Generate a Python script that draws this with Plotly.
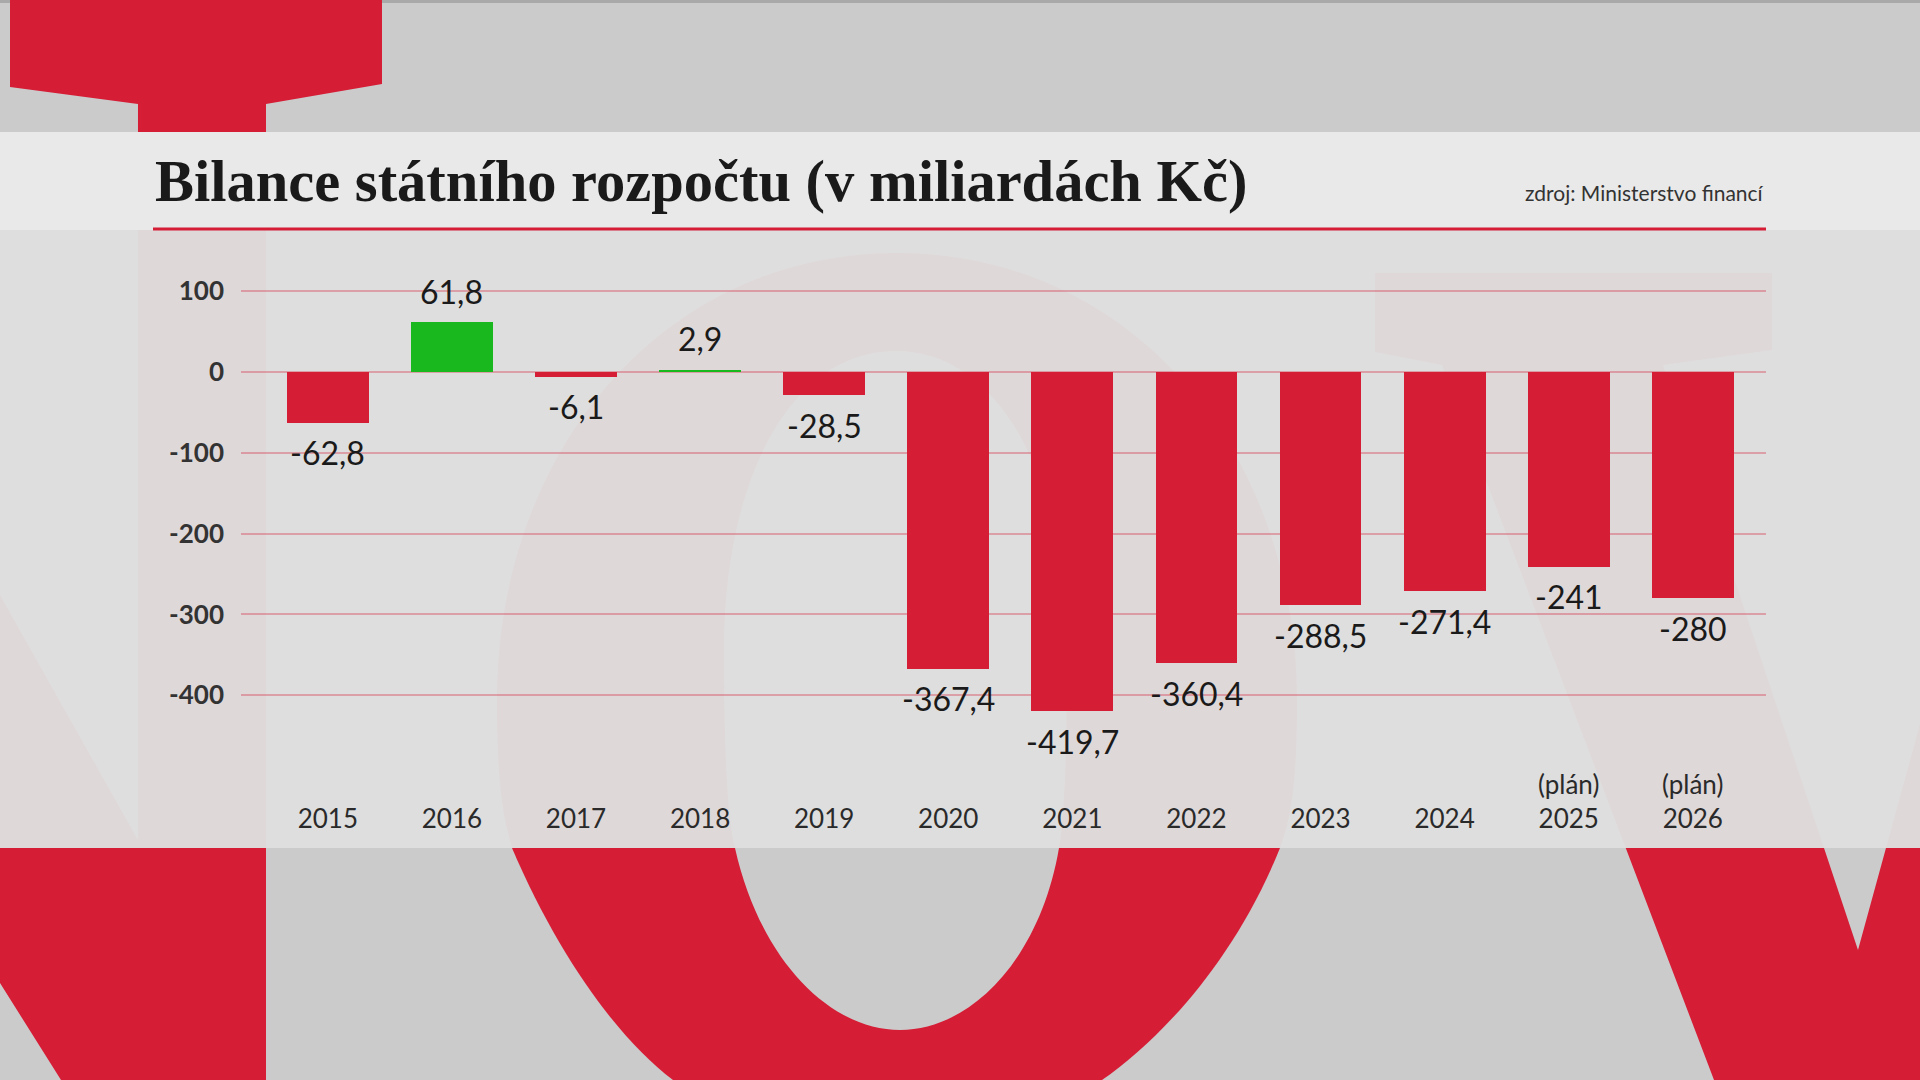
import plotly.graph_objects as go

# ---------------- data ----------------
years = ["2015", "2016", "2017", "2018", "2019", "2020",
         "2021", "2022", "2023", "2024", "2025", "2026"]
balance = [-62.8, 61.8, -6.1, 2.9, -28.5, -367.4,
           -419.7, -360.4, -288.5, -271.4, -241.0, -280.0]
plan_years = ["2025", "2026"]
plan_note = "(plán)"
y_tick_vals = [100, 0, -100, -200, -300, -400]
y_tick_text = ["100", "0", "-100", "-200", "-300", "-400"]
title_text = "Bilance státního rozpočtu (v miliardách Kč)"
source_text = "zdroj: Ministerstvo financí"

# ---------------- styling / layout helpers ----------------
W, H = 1920, 1080
RED = "#d51d36"
GREEN = "#18b81e"
BG = "#cbcbcb"


def px(x):
    return x / W


def py(y):
    return 1 - y / H


def P(x, y):
    return f"{px(x):.5f},{py(y):.5f}"


def poly(points):
    s = "M " + P(*points[0])
    for p in points[1:]:
        s += " L " + P(*p)
    return s + " Z"


# plot-area geometry (pixels)
zero_px = 372.0
scale = 0.808          # px per unit
y_lo, y_hi = -525, 125
plot_top = zero_px - y_hi * scale
plot_bot = zero_px - y_lo * scale
plot_left, plot_right = 241, 1766

colors = [GREEN if v > 0 else RED for v in balance]


def fmt(v):
    return f"{v:g}".replace(".", ",")


fig = go.Figure()
fig.add_trace(go.Bar(
    x=years, y=balance, marker_color=colors, marker_line_width=0,
    width=0.66, hoverinfo="skip"))

# ---------------- background decoration ----------------
shapes = []
shapes.append(dict(type="rect", xref="paper", yref="paper",
                   x0=0, x1=1, y0=py(3), y1=1, fillcolor="#a9a9a9",
                   line_width=0, layer="below"))
shapes.append(dict(type="path", xref="paper", yref="paper", layer="below",
                   fillcolor=RED, line_width=0,
                   path=poly([(10, 0), (382, 0), (382, 84), (266, 104), (266, 1080),
                              (61, 1080), (0, 983), (0, 595), (138, 840),
                              (138, 104), (10, 87)])))
outer = ("M " + P(897, 253) + " C " + P(664, 253) + " " + P(497, 450) + " " + P(497, 700)
         + " C " + P(497, 790) + " " + P(504, 820) + " " + P(512, 848)
         + " C " + P(560, 960) + " " + P(620, 1040) + " " + P(673, 1080)
         + " L " + P(1102, 1080)
         + " C " + P(1160, 1040) + " " + P(1235, 960) + " " + P(1280, 848)
         + " C " + P(1290, 820) + " " + P(1297, 790) + " " + P(1297, 700)
         + " C " + P(1297, 450) + " " + P(1130, 253) + " " + P(897, 253) + " Z")
shapes.append(dict(type="path", xref="paper", yref="paper", layer="below",
                   fillcolor=RED, line_width=0, path=outer))
inner = ("M " + P(896, 351) + " C " + P(790, 351) + " " + P(724, 480) + " " + P(724, 650)
         + " C " + P(724, 760) + " " + P(728, 820) + " " + P(735, 848)
         + " C " + P(760, 960) + " " + P(830, 1030) + " " + P(900, 1030)
         + " C " + P(970, 1030) + " " + P(1040, 960) + " " + P(1059, 848)
         + " C " + P(1064, 820) + " " + P(1067, 760) + " " + P(1067, 650)
         + " C " + P(1067, 480) + " " + P(1000, 351) + " " + P(896, 351) + " Z")
shapes.append(dict(type="path", xref="paper", yref="paper", layer="below",
                   fillcolor=BG, line_width=0, path=inner))
shapes.append(dict(type="path", xref="paper", yref="paper", layer="below",
                   fillcolor=RED, line_width=0,
                   path=poly([(1375, 273), (1772, 273), (1772, 350), (1663, 365),
                              (1858, 950), (1920, 724), (1920, 1080), (1714, 1080),
                              (1442, 365), (1375, 352)])))
# title band
shapes.append(dict(type="rect", xref="paper", yref="paper", layer="below",
                   x0=0, x1=1, y0=py(230), y1=py(132),
                   fillcolor="#e9e9e9", line_width=0))
# chart panel (translucent)
shapes.append(dict(type="rect", xref="paper", yref="paper", layer="below",
                   x0=0, x1=1, y0=py(848), y1=py(230),
                   fillcolor="rgba(223,223,223,0.965)", line_width=0))
# red rule under title
shapes.append(dict(type="line", xref="paper", yref="paper", layer="below",
                   x0=px(153), x1=px(1766), y0=py(229), y1=py(229),
                   line=dict(color=RED, width=3)))

# ---------------- annotations ----------------
annotations = []
for i, v in enumerate(balance):
    annotations.append(dict(
        x=i, y=v, xref="x", yref="y", text=fmt(v), showarrow=False,
        yanchor="middle", yshift=31 if v > 0 else -30,
        font=dict(family="Lato", size=32, color="#1a1a1a")))
for yr in plan_years:
    annotations.append(dict(
        x=years.index(yr), y=py(784), xref="x", yref="paper", text=plan_note,
        showarrow=False, yanchor="middle",
        font=dict(family="Lato", size=26, color="#2a2a2a")))
annotations.append(dict(
    x=px(153), y=py(181), xref="paper", yref="paper", text=title_text,
    showarrow=False, xanchor="left", yanchor="middle",
    font=dict(family="Liberation Serif", size=58.5, color="#1a1a1a", weight=700)))
annotations.append(dict(
    x=px(1766), y=py(192), xref="paper", yref="paper", text=source_text,
    showarrow=False, xanchor="right", yanchor="middle",
    font=dict(family="Lato", size=21, color="#333333")))

fig.update_layout(
    width=W, height=H, margin=dict(l=0, r=0, t=0, b=0),
    paper_bgcolor=BG, plot_bgcolor="rgba(0,0,0,0)",
    showlegend=False, bargap=0,
    shapes=shapes, annotations=annotations,
    xaxis=dict(domain=[px(plot_left), px(plot_right)], type="category",
               range=[-0.7, 11.59], showgrid=False, zeroline=False,
               showline=False, ticks="", ticklabelstandoff=5,
               tickfont=dict(family="Lato", size=26, color="#2a2a2a")),
    yaxis=dict(domain=[py(plot_bot), py(plot_top)], range=[y_lo, y_hi],
               tickvals=y_tick_vals, ticktext=y_tick_text,
               showgrid=True, gridcolor="rgba(213,29,54,0.32)", gridwidth=2,
               zeroline=False, showline=False, ticks="", ticklabelstandoff=16,
               tickfont=dict(family="Lato", size=26, color="#333333", weight=700)),
)

fig.write_html("out.html")
